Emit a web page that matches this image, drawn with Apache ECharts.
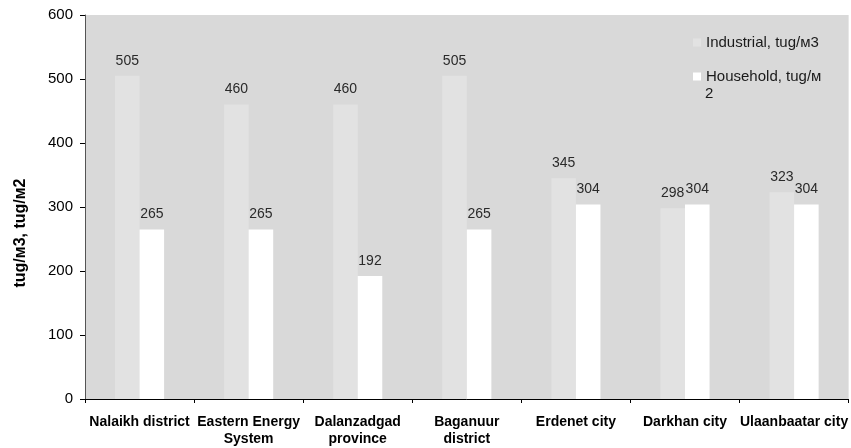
<!DOCTYPE html>
<html>
<head>
<meta charset="utf-8">
<script src="https://cdn.jsdelivr.net/npm/echarts@6/dist/echarts.min.js"></script>
<style>
  html, body { margin: 0; padding: 0; background: #ffffff; }
  #chart { width: 851px; height: 448px; }
</style>
</head>
<body>
<div id="chart"></div>
<script>
// Tariffs by area
const categories = [
  'Nalaikh district',
  'Eastern Energy\nSystem',
  'Dalanzadgad\nprovince',
  'Baganuur\ndistrict',
  'Erdenet city',
  'Darkhan city',
  'Ulaanbaatar city'
];
const industrial = [505, 460, 460, 505, 345, 298, 323];
const household = [265, 265, 192, 265, 304, 304, 304];
const industrialName = 'Industrial, tug/м3';
const householdName = 'Household, tug/м2';
const yTitle = 'tug/м3, tug/м2';
const yTicks = [0, 100, 200, 300, 400, 500, 600];

const chart = echarts.init(document.getElementById('chart'), null, { renderer: 'canvas' });
const font = 'Liberation Sans, Arial, sans-serif';

const valueLabel = {
  show: true,
  position: 'top',
  distance: 8,
  fontFamily: font,
  fontSize: 14,
  color: '#2a2a2a'
};

// the household legend entry wraps: first part in the legend, last char on its own line
const householdHead = householdName.slice(0, -1);
const householdTail = householdName.slice(-1);

chart.setOption({
  animation: false,
  backgroundColor: '#ffffff',
  grid: {
    left: 85, right: 0, top: 15, bottom: 49,
    show: true,
    backgroundColor: '#d9d9d9',
    borderWidth: 0
  },
  legend: {
    orient: 'vertical',
    left: 688,
    top: 29,
    itemWidth: 8,
    itemHeight: 8,
    itemGap: 17,
    icon: 'rect',
    textStyle: {
      fontFamily: font,
      fontSize: 15,
      color: '#1a1a1a',
      lineHeight: 17
    },
    formatter: function (name) {
      return name === householdName ? householdHead : name;
    },
    data: [industrialName, householdName]
  },
  graphic: [
    {
      // rotated axis title beside the value axis
      type: 'text',
      x: 21,
      y: 233,
      rotation: Math.PI / 2,
      style: {
        text: yTitle,
        font: 'bold 16px ' + font,
        fill: '#000000',
        align: 'center',
        verticalAlign: 'middle'
      }
    },
    {
      // wrapped remainder of the household legend label
      type: 'text',
      left: 705,
      top: 86,
      style: {
        text: householdTail,
        font: '15px ' + font,
        fill: '#1a1a1a'
      }
    }
  ],
  xAxis: {
    type: 'category',
    data: categories,
    axisLine: { lineStyle: { color: '#000000', width: 1 } },
    axisTick: { show: true, length: 4, alignWithLabel: false, lineStyle: { color: '#000000' } },
    axisLabel: {
      interval: 0,
      margin: 15,
      fontFamily: font,
      fontSize: 14,
      fontWeight: 'bold',
      color: '#000000',
      lineHeight: 17
    }
  },
  yAxis: {
    type: 'value',
    min: yTicks[0],
    max: yTicks[yTicks.length - 1],
    interval: 100,
    splitLine: { show: false },
    axisLine: { show: true, lineStyle: { color: '#555555', width: 1 } },
    axisTick: { show: true, length: 5, lineStyle: { color: '#000000' } },
    axisLabel: {
      margin: 12,
      fontFamily: font,
      fontSize: 15,
      color: '#000000'
    }
  },
  series: [
    {
      name: industrialName,
      type: 'bar',
      data: industrial,
      barGap: '0%',
      barCategoryGap: '55%',
      itemStyle: { color: '#e2e2e2' },
      label: valueLabel
    },
    {
      name: householdName,
      type: 'bar',
      data: household,
      itemStyle: { color: '#ffffff' },
      label: valueLabel
    }
  ]
});
</script>
</body>
</html>
